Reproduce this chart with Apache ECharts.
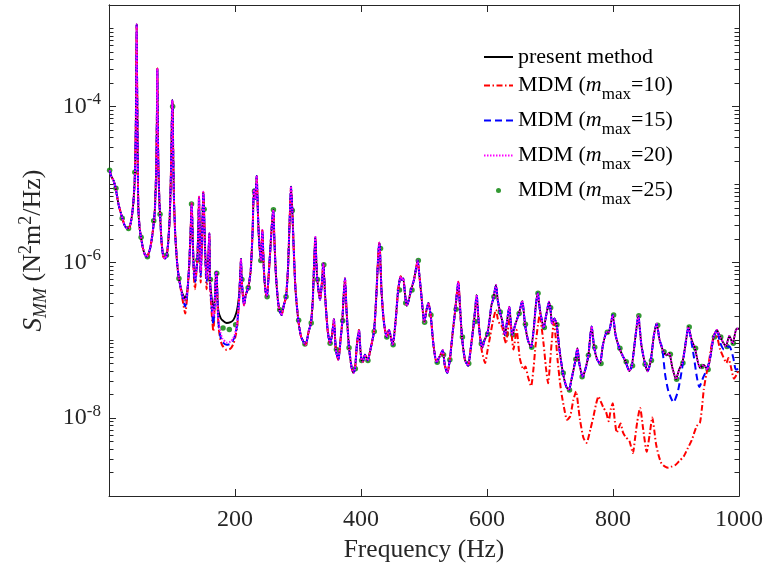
<!DOCTYPE html>
<html><head><meta charset="utf-8">
<script src="https://cdn.jsdelivr.net/npm/echarts@6/dist/echarts.min.js"></script>
<style>html,body{margin:0;padding:0;background:#fff}#c{width:768px;height:570px}</style>
</head><body><div id="c"></div>
<script>
// ---------- DATA (frequency Hz, S_MM) ----------
const xTicks = [200, 400, 600, 800, 1000];
const yLabelValues = [1e-8, 1e-6, 1e-4];

// 1-111 Hz: identical for all line series
const commonLow = [[1,1.52e-5],[4,1.25e-5],[7,1.13e-5],[10.6,8.9e-6],[14.8,5.7e-6],[18,4.5e-6],[21.2,3.66e-6],[25,2.95e-6],[29,2.72e-6],[32,2.75e-6],[34.5,3.2e-6],[36.5,4.0e-6],[39,6.3e-6],[41.3,1.43e-5],[42.6,6e-5],[43.4,3.2e-4],[43.9,1.12e-3],[44.4,3.2e-4],[45.3,4.5e-5],[46.5,5.1e-6],[48.5,2.8e-6],[50.8,2.09e-6],[54,1.5e-6],[57,1.25e-6],[60,1.18e-6],[63,1.3e-6],[66,1.6e-6],[69,2.3e-6],[71.4,3.41e-6],[73,5.1e-6],[75,1.6e-5],[76,7e-5],[76.7,3.07e-4],[77.4,7e-5],[78.4,1.6e-5],[80,6e-6],[81,4.12e-6],[83.5,1.8e-6],[86.2,1.18e-6],[89,1.12e-6],[91.6,1.23e-6],[94,1.8e-6],[96.5,4e-6],[98.5,1.6e-5],[99.6,5.5e-5],[100.4,1.2e-4],[101,1.0e-4],[101.8,3e-5],[103,7e-6],[105,2.4e-6],[108,1.0e-6],[111,6.2e-7]];

// 111-210 Hz: per series
const presentMid = [[116,4.1e-7],[121,3.4e-7],[124.5,4.5e-7],[127.5,1.0e-6],[129.6,2.6e-6],[131.3,5.7e-6],[132.8,2.2e-6],[134.5,9e-7],[136.5,6.6e-7],[138.5,8e-7],[140.2,1.07e-6],[141.8,2.8e-6],[142.9,6.9e-6],[144.2,2.0e-6],[145.5,7.9e-7],[147.2,1.6e-6],[148.7,4.2e-6],[149.7,8.0e-6],[150.8,4.8e-6],[152.5,1.5e-6],[155,6.6e-7],[157.5,1.1e-6],[159.3,2.34e-6],[160.3,6.0e-7],[163,3.5e-7],[165.6,2.45e-7],[168,3.5e-7],[170,7.5e-7],[171,7.2e-7],[172.3,3.3e-7],[174,2.3e-7],[177,1.95e-7],[180,1.8e-7],[186.8,1.66e-7],[193,1.7e-7],[197,1.8e-7],[200,2.0e-7],[203,2.4e-7],[205.2,3.1e-7],[206.8,4.1e-7],[208.3,7e-7],[209.5,1.1e-6]];
const mdm10Mid = [[116,3.6e-7],[121,2.2e-7],[124.5,4.0e-7],[127.5,1.0e-6],[129.6,2.6e-6],[131.3,5.7e-6],[132.8,2.2e-6],[134.5,7e-7],[136.5,4.5e-7],[138.5,7e-7],[140.2,1.07e-6],[141.8,2.8e-6],[142.9,6.9e-6],[144.2,1.8e-6],[145.5,5.5e-7],[147.2,1.5e-6],[148.7,4.2e-6],[149.7,8.0e-6],[150.8,4.8e-6],[152.5,1.3e-6],[155,4.5e-7],[157.5,1.0e-6],[159.3,2.34e-6],[160.3,5.5e-7],[163,2.2e-7],[165.6,1.3e-7],[168,3.0e-7],[170,7.5e-7],[171,7.2e-7],[172.3,2.8e-7],[174,1.45e-7],[177,1.0e-7],[180,8.5e-8],[186.8,7.5e-8],[193,7.8e-8],[197,8.8e-8],[200,1.05e-7],[203,1.4e-7],[205.2,2.2e-7],[206.8,3.6e-7],[208.3,7e-7],[209.5,1.1e-6]];
const mdm15Mid = [[116,3.8e-7],[121,2.7e-7],[124.5,4.2e-7],[127.5,1.0e-6],[129.6,2.6e-6],[131.3,5.7e-6],[132.8,2.2e-6],[134.5,8e-7],[136.5,5.5e-7],[138.5,7.5e-7],[140.2,1.07e-6],[141.8,2.8e-6],[142.9,6.9e-6],[144.2,1.9e-6],[145.5,6.5e-7],[147.2,1.55e-6],[148.7,4.2e-6],[149.7,8.0e-6],[150.8,4.8e-6],[152.5,1.4e-6],[155,5.5e-7],[157.5,1.05e-6],[159.3,2.34e-6],[160.3,5.7e-7],[163,2.6e-7],[165.6,1.6e-7],[168,3.2e-7],[170,7.5e-7],[171,7.2e-7],[172.3,3.0e-7],[174,1.6e-7],[177,1.1e-7],[180,9.5e-8],[186.8,8.7e-8],[193,9.0e-8],[197,1.0e-7],[200,1.15e-7],[203,1.5e-7],[205.2,2.3e-7],[206.8,3.7e-7],[208.3,7e-7],[209.5,1.1e-6]];
const mdm20Mid = [[116,4.0e-7],[121,3.1e-7],[124.5,4.4e-7],[127.5,1.0e-6],[129.6,2.6e-6],[131.3,5.7e-6],[132.8,2.2e-6],[134.5,8.5e-7],[136.5,6.2e-7],[138.5,7.8e-7],[140.2,1.07e-6],[141.8,2.8e-6],[142.9,6.9e-6],[144.2,2.0e-6],[145.5,7.5e-7],[147.2,1.6e-6],[148.7,4.2e-6],[149.7,8.0e-6],[150.8,4.8e-6],[152.5,1.45e-6],[155,6.2e-7],[157.5,1.1e-6],[159.3,2.34e-6],[160.3,5.9e-7],[163,3.0e-7],[165.6,2.0e-7],[168,3.4e-7],[170,7.5e-7],[171,7.2e-7],[172.3,3.0e-7],[174,1.8e-7],[177,1.25e-7],[180,1.05e-7],[186.8,9.3e-8],[193,9.6e-8],[197,1.05e-7],[200,1.2e-7],[203,1.6e-7],[205.2,2.4e-7],[206.8,3.7e-7],[208.3,7e-7],[209.5,1.1e-6]];

// 210-580 Hz: identical for all line series
const commonHigh = [[210.6,6.0e-7],[214.3,2.8e-7],[217,3.8e-7],[221,4.7e-7],[225,7.9e-7],[228,2.6e-6],[230,8.5e-6],[232.2,6.5e-6],[234.4,1.28e-5],[236.5,4e-6],[238.5,1.65e-6],[240,1.3e-6],[241,1.05e-6],[243.4,2.6e-6],[245.5,9.3e-7],[248,4.5e-7],[250.5,3.6e-7],[253,6e-7],[256,1.45e-6],[258.5,3e-6],[260.8,4.7e-6],[262.5,1.95e-6],[265,6.8e-7],[268,3.3e-7],[270.4,2.45e-7],[274,2.1e-7],[277.5,2.8e-7],[281,3.6e-7],[284,7.9e-7],[286.5,3e-6],[288.9,9.3e-6],[291,4.6e-6],[293,1.65e-6],[296,4.5e-7],[300.5,1.8e-7],[305,1.1e-7],[312,8.7e-8],[317,1.3e-7],[320.6,1.66e-7],[323.5,3.3e-7],[325.5,9.3e-7],[327.5,2.1e-6],[329,1.07e-6],[330.6,6.0e-7],[335,3.3e-7],[338,5.5e-7],[340.2,9.7e-7],[343,3.8e-7],[347,1.35e-7],[350.8,9.1e-8],[354,1.15e-7],[357,1.86e-7],[360,7.6e-8],[364,5.6e-8],[367.5,1e-7],[370.4,1.77e-7],[372.5,3.8e-7],[374.6,6.2e-7],[377,2.45e-7],[381,8e-8],[385,4.5e-8],[388,3.8e-8],[390.5,4.3e-8],[393.5,8.7e-8],[396.8,1.35e-7],[399,7.6e-8],[401,5.5e-8],[403,5.3e-8],[406.3,6.5e-8],[410.6,5.5e-8],[415,7.6e-8],[420.6,1.29e-7],[424,3.3e-7],[427,1.07e-6],[429,1.78e-6],[430,1.5e-6],[432.5,4.4e-7],[436,1.8e-7],[440.7,1.1e-7],[444.4,1.35e-7],[450.3,8.7e-8],[455,1.8e-7],[459,4.4e-7],[463,6.6e-7],[465,5.9e-7],[467,6.2e-7],[470,3.8e-7],[472.5,2.75e-7],[476,3.3e-7],[479.4,4.4e-7],[484,5.9e-7],[487,8e-7],[490,1.05e-6],[492.5,7e-7],[495,4.4e-7],[500.5,1.7e-7],[504,2.45e-7],[507,3.0e-7],[510.6,2.1e-7],[515,8.7e-8],[520,5.2e-8],[525,6.2e-8],[529.7,7.4e-8],[533,4.8e-8],[537,3.8e-8],[541,5.6e-8],[546,1.35e-7],[549.7,2.5e-7],[554.5,5.6e-7],[557,2.8e-7],[560.3,1.1e-7],[565,5.6e-8],[570,4.7e-8],[574,7.6e-8],[579.4,1.74e-7]];

// 583-875 Hz: present, m=15, m=20
const commonTail = [[583.6,3.8e-7],[587,1.6e-7],[590,9.5e-8],[592.5,7.9e-8],[596,1e-7],[600.5,1.2e-7],[604,1.8e-7],[607,2.8e-7],[610,3.4e-7],[614.3,5.1e-7],[617,3.3e-7],[620.6,2.3e-7],[624,1.8e-7],[628.6,1.17e-7],[632,1.8e-7],[635.4,2.7e-7],[638,1.6e-7],[640.2,1.17e-7],[645,1.6e-7],[650.8,2.2e-7],[656,3.2e-7],[660.3,1.6e-7],[665,1e-7],[670,8.1e-8],[674,1.35e-7],[677.5,2.8e-7],[680.5,4.0e-7],[684,2.45e-7],[690,1.45e-7],[694,2.1e-7],[698.4,3.1e-7],[700.5,2.6e-7],[703.5,1.6e-7],[707,1.9e-7],[710.6,1.58e-7],[715,7.6e-8],[720.5,3.8e-8],[726,2.5e-8],[730,2.3e-8],[734,3.1e-8],[740.7,5.7e-8],[743.4,7.9e-8],[747,4.8e-8],[752,3.4e-8],[756,4.2e-8],[761,6.4e-8],[764,1.15e-7],[766.2,1.5e-7],[770,8.1e-8],[775,5.6e-8],[779.4,5e-8],[784,8.7e-8],[790,1.26e-7],[793,1.24e-7],[799.5,2.1e-7],[804,1.17e-7],[810,7.9e-8],[815,6.4e-8],[820,5.3e-8],[826,4e-8],[830,4.7e-8],[835,1e-7],[840.2,2.05e-7],[845,8.7e-8],[851,4.9e-8],[855,4e-8],[860,5.5e-8],[865,1.17e-7],[869.3,1.62e-7],[874,1e-7]];
const presentEnd = [[880,7.1e-8],[885,6.4e-8],[889.4,6.8e-8],[894,4.5e-8],[900,3.15e-8],[905,4.2e-8],[910,5.1e-8],[915,8.7e-8],[919.6,1.48e-7],[925,1e-7],[930,7.9e-8],[938,4.4e-8],[944,4.8e-8],[950,4.2e-8],[955,6.4e-8],[959.6,1.1e-7],[965,1.35e-7],[970,1.1e-7],[975,9.3e-8],[979,8.3e-8],[984.6,1.13e-7],[990,9.1e-8],[996,1.4e-7],[1000,1.4e-7]];
const mdm15End = [[878,8e-8],[883,3.5e-8],[888,2.2e-8],[896,1.59e-8],[903,2.2e-8],[910,4.5e-8],[915,9e-8],[919.6,1.45e-7],[925,9e-8],[928,6.4e-8],[933,3.4e-8],[937,2.5e-8],[943,3.3e-8],[950,4.4e-8],[955,6.4e-8],[959.6,1.1e-7],[965,1.35e-7],[970,9.3e-8],[976,7.6e-8],[981,8.2e-8],[985,8.3e-8],[991,5.9e-8],[995,4.2e-8],[1000,4.3e-8]];
// 583-1000 Hz: m=10
const mdm10Tail = [[583.6,3.2e-7],[588,1.3e-7],[591.5,7.5e-8],[597,5.1e-8],[601,7.5e-8],[605,1.12e-7],[609,1.7e-7],[614.3,2.45e-7],[617,1.9e-7],[620.6,1.58e-7],[624,1.5e-7],[627,1.1e-7],[630.2,9.1e-8],[633,1.3e-7],[636,1.94e-7],[639,1.2e-7],[642,7.6e-8],[647,1.35e-7],[652,5.9e-8],[658,4.2e-8],[661,4.6e-8],[665,3.4e-8],[670,2.57e-8],[674,4.5e-8],[677,8.5e-8],[681,1.6e-7],[684,2.2e-7],[687,1.4e-7],[690,8.7e-8],[693.5,4.5e-8],[697,2.8e-8],[700,5e-8],[702.5,9e-8],[706,1.66e-7],[709,1.1e-7],[712,5.6e-8],[716,2.8e-8],[719,1.9e-8],[722,1.4e-8],[727,9.5e-9],[732,1.05e-8],[737,1.7e-8],[741.5,2.2e-8],[744.5,1.5e-8],[747.6,9.5e-9],[753,5.6e-9],[758,4.8e-9],[764,7.1e-9],[769,1.05e-8],[773,1.5e-8],[777,1.9e-8],[781,1.6e-8],[785,1.35e-8],[789,1.2e-8],[793,9.1e-9],[796.5,1.3e-8],[799.5,1.55e-8],[803,9e-9],[806,6.5e-9],[809,7.5e-9],[812,8.5e-9],[816,6.5e-9],[820,5.7e-9],[826,5.1e-9],[831.6,3.55e-9],[835,5.5e-9],[838.5,9e-9],[843,1.35e-8],[848,7.1e-9],[853.5,3.7e-9],[858,6e-9],[862.4,1.02e-8],[865.5,7e-9],[868,4.8e-9],[872,3.4e-9],[877,2.6e-9],[882,2.4e-9],[888,2.3e-9],[894,2.4e-9],[899,2.5e-9],[905,2.8e-9],[912,3.2e-9],[918,4.0e-9],[925,5.2e-9],[929,6.5e-9],[933,7.9e-9],[938,8.7e-9],[941,1.3e-8],[944,2.3e-8],[948,3.6e-8],[952,5.1e-8],[957,9.1e-8],[962.5,1.25e-7],[966,1.05e-7],[970,7.6e-8],[975,6.1e-8],[980,5.1e-8],[983,5.9e-8],[987,4.6e-8],[992,3.2e-8],[996,3.6e-8],[1000,4.2e-8]];

// m=25 markers (every 10 Hz)
const mdm25Pts = [[1,1.52e-5],[11,8.9e-6],[21,3.66e-6],[31,2.7e-6],[41,1.43e-5],[51,2.09e-6],[61,1.18e-6],[71,3.41e-6],[81,4.12e-6],[91,1.23e-6],[101,1.0e-4],[111,6.2e-7],[121,3.4e-7],[131,5.6e-6],[141,1.07e-6],[151,4.8e-6],[161,6.0e-7],[171,7.2e-7],[181,1.43e-7],[191,1.37e-7],[201,1.58e-7],[211,6.0e-7],[221,4.7e-7],[231,8.2e-6],[241,1.05e-6],[251,3.6e-7],[261,4.7e-6],[271,2.45e-7],[281,3.6e-7],[291,4.6e-6],[301,1.8e-7],[311,8.9e-8],[321,1.66e-7],[331,6.0e-7],[341,9.3e-7],[351,9.1e-8],[361,7.6e-8],[371,1.77e-7],[381,8e-8],[391,4.3e-8],[401,5.5e-8],[411,5.5e-8],[421,1.29e-7],[431,1.5e-6],[441,1.1e-7],[451,8.7e-8],[461,4.4e-7],[471,3.0e-7],[481,4.4e-7],[491,1.05e-6],[501,1.7e-7],[511,2.1e-7],[521,5.2e-8],[531,6.5e-8],[541,5.6e-8],[551,2.5e-7],[561,1.1e-7],[571,5e-8],[581,1.74e-7],[591,9e-8],[601,1.2e-7],[611,3.6e-7],[621,2.3e-7],[631,1.2e-7],[641,1.17e-7],[651,2.2e-7],[661,1.6e-7],[671,8.1e-8],[681,4.0e-7],[691,1.45e-7],[701,2.6e-7],[711,1.58e-7],[721,3.8e-8],[731,2.3e-8],[741,5.7e-8],[751,3.4e-8],[761,6.4e-8],[771,8.1e-8],[781,5e-8],[791,1.26e-7],[801,2.1e-7],[811,7.9e-8],[821,5.3e-8],[831,4.7e-8],[841,2.05e-7],[851,4.9e-8],[861,5.5e-8],[871,1.55e-7],[881,7.1e-8],[891,6.6e-8],[901,3.15e-8],[911,5.1e-8],[921,1.48e-7],[931,7.9e-8],[941,4.6e-8],[951,4.2e-8],[961,1.1e-7],[971,1.1e-7],[981,8.3e-8],[991,9.1e-8]];

const presentData = commonLow.concat(presentMid, commonHigh, commonTail, presentEnd);
const mdm10Data = commonLow.concat(mdm10Mid, commonHigh, mdm10Tail);
const mdm15Data = commonLow.concat(mdm15Mid, commonHigh, commonTail, mdm15End);
const mdm20Data = commonLow.concat(mdm20Mid, commonHigh, commonTail, presentEnd);

// ---------- CHART ----------
const FONT = 'Liberation Serif';
const AX = '#262626';
const majorTicks = yLabelValues.slice();
const minorTicks = [];
for (let n = -9; n <= -3; n++) {
  for (let k = 1; k <= 9; k++) {
    const v = k * Math.pow(10, n);
    if (v > 2.0001e-3) continue;
    if (k === 1 && (n === -8 || n === -6 || n === -4)) continue;
    minorTicks.push(v);
  }
}
const YMIN = 1e-9, YMAX = 2e-3;
function yAx(pos, ticks, len, showLabel, extra) {
  return Object.assign({
    type: 'log', logBase: 10, min: YMIN, max: YMAX, position: pos,
    axisLine: { show: true, lineStyle: { color: AX, width: 1 } },
    axisTick: { show: true, inside: true, length: len, customValues: ticks, lineStyle: { color: AX, width: 1 } },
    minorTick: { show: false },
    splitLine: { show: false },
    axisLabel: showLabel ? {
      show: true, customValues: yLabelValues, margin: 8,
      fontFamily: FONT, color: AX,
      formatter: v => '{b|10}{e|' + Math.round(Math.log10(v)) + '}',
      rich: {
        b: { fontFamily: FONT, fontSize: 24, color: AX, lineHeight: 24 },
        e: { fontFamily: FONT, fontSize: 17, color: AX, lineHeight: 17, padding: [0, 0, 14, 0] }
      }
    } : { show: false }
  }, extra || {});
}
const chart = echarts.init(document.getElementById('c'), null, { renderer: 'canvas' });
const hideSym = { opacity: 0 };
const option = {
  animation: false,
  backgroundColor: '#fff',
  grid: { left: 109, top: 5, width: 630, height: 491, containLabel: false },
  xAxis: [
    { type: 'value', min: 0, max: 1000, interval: 200, position: 'bottom',
      axisLine: { show: true, onZero: false, lineStyle: { color: AX, width: 1 } },
      axisTick: { show: true, inside: true, length: 7, lineStyle: { color: AX } },
      splitLine: { show: false },
      axisLabel: { show: true, showMinLabel: false, margin: 12, fontFamily: FONT, fontSize: 24, color: AX,
        formatter: v => xTicks.indexOf(v) >= 0 ? String(v) : '' },
      name: 'Frequency (Hz)', nameLocation: 'middle', nameGap: 41,
      nameTextStyle: { fontFamily: FONT, fontSize: 25.5, color: AX } },
    { type: 'value', min: 0, max: 1000, interval: 200, position: 'top',
      axisLine: { show: true, onZero: false, lineStyle: { color: AX, width: 1 } },
      axisTick: { show: true, inside: true, length: 7, lineStyle: { color: AX } },
      splitLine: { show: false }, axisLabel: { show: false } }
  ],
  yAxis: [
    yAx('left', majorTicks, 7, true, {
      name: '{s|S}{sb|MM}{n| (N}{sp|2}{n|m}{sp|2}{n|/Hz)}',
      nameLocation: 'middle', nameGap: 62, nameRotate: 90,
      nameTextStyle: { fontFamily: FONT, color: AX, rich: {
        s: { fontFamily: FONT, fontSize: 27, fontStyle: 'italic', color: AX, lineHeight: 27 },
        sb: { fontFamily: FONT, fontSize: 18, fontStyle: 'italic', color: AX, lineHeight: 18, padding: [15, 0, 0, 0] },
        n: { fontFamily: FONT, fontSize: 26, color: AX, lineHeight: 26 },
        sp: { fontFamily: FONT, fontSize: 18, color: AX, lineHeight: 18, padding: [0, 0, 15, 0] }
      } }
    }),
    yAx('left', minorTicks, 4.5, false),
    yAx('right', majorTicks, 7, false),
    yAx('right', minorTicks, 4.5, false)
  ],
  legend: {
    orient: 'vertical', left: 483, top: 46, padding: 0, itemGap: 0,
    itemWidth: 29, itemHeight: 14,
    textStyle: { fontFamily: FONT, fontSize: 22, color: '#000', lineHeight: 22,
      rich: {
        n: { fontFamily: FONT, fontSize: 22, color: '#000', lineHeight: 22 },
        i: { fontFamily: FONT, fontSize: 22, fontStyle: 'italic', color: '#000', lineHeight: 22 },
        s: { fontFamily: FONT, fontSize: 17, color: '#000', lineHeight: 17, padding: [18, 0, 0, 0] }
      } },
    formatter: name => {
      const m = { 'MDM10': '10', 'MDM15': '15', 'MDM20': '20', 'MDM25': '25' }[name];
      return m ? '{n|MDM (}{i|m}{s|max}{n|=' + m + ')}' : name;
    },
    data: [
      { name: 'present method', itemStyle: hideSym },
      { name: 'MDM10', itemStyle: hideSym },
      { name: 'MDM15', itemStyle: hideSym },
      { name: 'MDM20', itemStyle: hideSym },
      { name: 'MDM25', icon: 'path://M0,0M29,14M12,7a2.5,2.5 0 1,0 5,0a2.5,2.5 0 1,0 -5,0z' }
    ]
  },
  series: [
    { name: 'present method', type: 'line', data: presentData, symbol: 'none', smooth: 0.2,
      lineStyle: { color: '#000000', width: 1.8 }, itemStyle: { color: '#000000' } },
    { name: 'MDM10', type: 'line', data: mdm10Data, symbol: 'none', smooth: 0.2,
      lineStyle: { color: '#ff0000', width: 2, type: [6, 2.5, 1.5, 2.5] }, itemStyle: { color: '#ff0000' } },
    { name: 'MDM15', type: 'line', data: mdm15Data, symbol: 'none', smooth: 0.2,
      lineStyle: { color: '#0000ff', width: 2, type: [7, 4] }, itemStyle: { color: '#0000ff' } },
    { name: 'MDM20', type: 'line', data: mdm20Data, symbol: 'none', smooth: 0.2,
      lineStyle: { color: '#ff00ff', width: 2, type: [1.5, 1.5] }, itemStyle: { color: '#ff00ff' } },
    { name: 'MDM25', type: 'scatter', data: mdm25Pts, symbol: 'circle', symbolSize: 5.5,
      itemStyle: { color: '#008000' } }
  ]
};
chart.setOption(option);
</script>
</body></html>
